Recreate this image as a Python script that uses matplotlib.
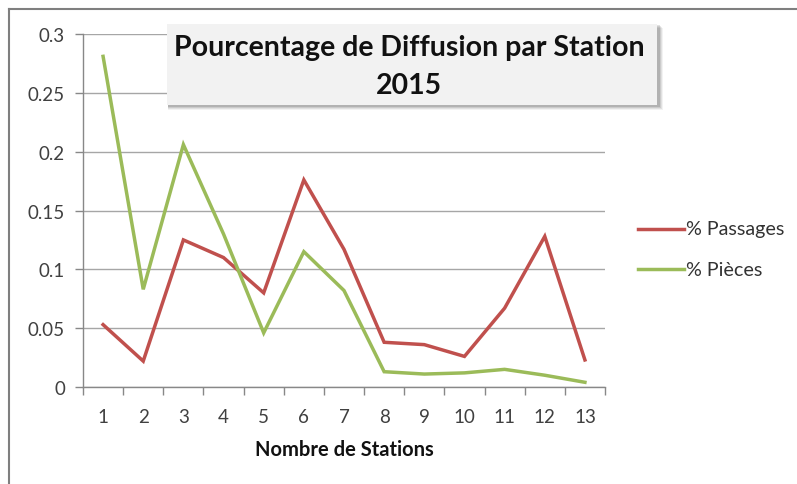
import matplotlib
matplotlib.use("Agg")
import matplotlib.pyplot as plt
from matplotlib.lines import Line2D
from matplotlib.patches import Rectangle

plt.rcParams['font.family'] = ['Lato', 'DejaVu Sans']

# données
stations = list(range(1, 14))
passages = [0.053, 0.022, 0.125, 0.110, 0.080, 0.176, 0.117, 0.038, 0.036, 0.026, 0.067, 0.128, 0.023]
pieces = [0.281, 0.083, 0.206, 0.130, 0.046, 0.115, 0.082, 0.013, 0.011, 0.012, 0.015, 0.010, 0.004]
y_ticks = [0, 0.05, 0.1, 0.15, 0.2, 0.25, 0.3]
y_labels = ['0', '0.05', '0.1', '0.15', '0.2', '0.25', '0.3']
series_names = ['% Passages', '% Pièces']

W, H = 797, 485
fig = plt.figure(figsize=(W / 100, H / 100), dpi=100)
ax = fig.add_axes([83 / W, 1 - 388 / H, (605 - 83) / W, (388 - 35) / H])

rouge = '#c0504d'
vert = '#9bbb59'
ax.plot(stations, passages, color=rouge, lw=2.5, solid_joinstyle='miter')
ax.plot(stations, pieces, color=vert, lw=2.5, solid_joinstyle='miter')

ax.set_xlim(0.5, 13.5)
ax.set_ylim(0, 0.3)
ax.set_yticks(y_ticks)
ax.set_yticklabels(y_labels)
ax.set_xticks(stations)
ax.set_xticks([i + 0.5 for i in range(0, 14)], minor=True)
ax.tick_params(axis='x', which='major', length=0, pad=15, labelsize=13.5, labelcolor='#404040')
ax.tick_params(axis='x', which='minor', length=6, color='#888888', width=1)
ax.tick_params(axis='y', length=6, color='#888888', width=1, pad=7, labelsize=13.5, labelcolor='#404040')
ax.grid(axis='y', color='#a6a6a6', lw=1)
ax.set_axisbelow(True)
for s in ['top', 'right']:
    ax.spines[s].set_visible(False)
for s in ['left', 'bottom']:
    ax.spines[s].set_color('#888888')
    ax.spines[s].set_linewidth(1)

ax.set_xlabel('Nombre de Stations', fontsize=14.5, fontweight='bold', color='#111111', labelpad=10)

# titre dans une boîte grise avec ombre douce
bx, by, bw, bh = 167, 25, 490, 81
for k, a in [(5, 0.05), (4, 0.07), (3, 0.09), (2, 0.12)]:
    fig.patches.append(Rectangle(((bx + 1) / W, 1 - (by + bh + k) / H), (bw + k) / W, (bh + 1) / H,
                                 transform=fig.transFigure, facecolor='black', alpha=a,
                                 edgecolor='none', zorder=5))
fig.patches.append(Rectangle((bx / W, 1 - (by + bh) / H), bw / W, bh / H, transform=fig.transFigure,
                             facecolor='#f2f2f2', edgecolor='none', zorder=6))
fig.text(409 / W, 1 - 67 / H, 'Pourcentage de Diffusion par Station\n2015', ha='center', va='center',
         fontsize=20.5, fontweight='bold', color='#111111', linespacing=1.6, zorder=7)

# légende (dessinée à la main)
for nom, couleur, yp in zip(series_names, [rouge, vert], [230, 270]):
    fig.add_artist(Line2D([638 / W, 684 / W], [1 - yp / H, 1 - yp / H], color=couleur, lw=2.5,
                          transform=fig.transFigure))
    fig.text(686 / W, 1 - yp / H, nom, ha='left', va='center', fontsize=14.2, color='#333333')

# cadre
fig.add_artist(Line2D([9 / W, 9 / W], [0, 1 - 10 / H], color='#7f7f7f', lw=1.5, transform=fig.transFigure))
fig.add_artist(Line2D([9 / W, 796 / W], [1 - 10 / H, 1 - 10 / H], color='#7f7f7f', lw=1.5, transform=fig.transFigure))

fig.savefig('out.png', dpi=100)
